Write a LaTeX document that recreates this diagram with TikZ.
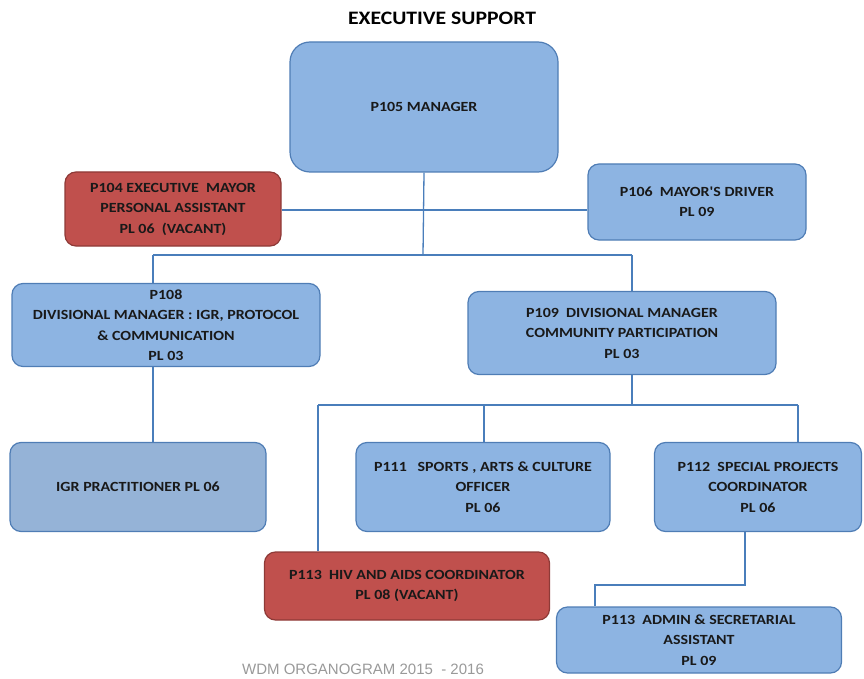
\documentclass[tikz,border=0pt]{standalone}
\usepackage{fontspec}
\setmainfont{Carlito}
\newfontfamily\boxfont[FakeStretch=1.14]{Carlito}
\newfontfamily\footfont{Liberation Sans}
\begin{document}
\definecolor{boxblue}{HTML}{8DB4E2}
\definecolor{boxgrey}{HTML}{95B3D7}
\definecolor{edgeblue}{HTML}{4F7DB5}
\definecolor{boxred}{HTML}{C0504D}
\definecolor{edgered}{HTML}{8E3A37}
\definecolor{linkblue}{HTML}{4A7EBB}
\begin{tikzpicture}[x=1pt,y=-1pt,
  post/.style={draw=edgeblue, line width=1.2pt, fill=boxblue, rounded corners=11pt,
    align=center, inner sep=0pt, text=black!90,
    font=\boxfont\bfseries\fontsize{14}{20.5}\selectfont},
  vacant/.style={post, draw=edgered, fill=boxred},
  link/.style={draw=linkblue, line width=1.3pt}]
\useasboundingbox (0,0) rectangle (864,679);

% title
\node[font=\boxfont\bfseries\fontsize{19}{22}\selectfont] (title) at (442,18) {EXECUTIVE SUPPORT};

% posts
\node[post, rounded corners=20pt, minimum width=268pt, minimum height=130pt] (mgr) at (424,107) {P105 MANAGER};
\node[vacant, minimum width=216pt, minimum height=74pt] (p104) at (173,209) {P104 EXECUTIVE\ \ MAYOR\\PERSONAL ASSISTANT\\PL 06\ \ (VACANT)};
\node[post, minimum width=218pt, minimum height=76pt] (p106) at (697,202) {P106\ \ MAYOR'S DRIVER\\PL 09};
\node[post, minimum width=308pt, minimum height=83pt] (p108) at (166,325) {P108\\DIVISIONAL MANAGER : IGR, PROTOCOL\\\& COMMUNICATION\\PL 03};
\node[post, minimum width=308pt, minimum height=83pt] (p109) at (622,333) {P109\ \ DIVISIONAL MANAGER\\COMMUNITY PARTICIPATION\\PL 03};
\node[post, fill=boxgrey, minimum width=256pt, minimum height=89pt] (igr) at (138,487) {IGR PRACTITIONER PL 06};
\node[post, minimum width=254pt, minimum height=89pt] (p111) at (483,487) {P111\ \ \ SPORTS , ARTS \& CULTURE\\OFFICER\\PL 06};
\node[post, minimum width=207pt, minimum height=89pt] (p112) at (758,487) {P112\ \ SPECIAL PROJECTS\\COORDINATOR\\PL 06};
\node[vacant, minimum width=285pt, minimum height=68pt] (hiv) at (407,586) {P113\ \ HIV AND AIDS COORDINATOR\\PL 08 (VACANT)};
\node[post, minimum width=285pt, minimum height=66pt] (adm) at (699,640) {P113\ \ ADMIN \& SECRETARIAL\\ASSISTANT\\PL 09};

% footer
\node[font=\footfont\fontsize{15}{17}\selectfont, text=black!40] (foot) at (363,669) {WDM ORGANOGRAM 2015\ \ - 2016};

% junction points of the connecting lines
\coordinate (busA) at (423,255);
\coordinate (busL) at (153,255);
\coordinate (busR) at (632,255);
\coordinate (busB) at (632,405);
\coordinate (bL) at (318,405);
\coordinate (bM) at (484,405);
\coordinate (bR) at (798,405);
\coordinate (admA) at (745,585);
\coordinate (admB) at (595,585);

% connectors
\draw[link] (mgr.south) -- (busA);
\draw[link] (p104.east |- 0,210) -- (p106.west |- 0,210);
\draw[link] (busL) -- (busR);
\draw[link] (busL) -- (busL |- p108.north);
\draw[link] (busR) -- (busR |- p109.north);
\draw[link] (busB |- p109.south) -- (busB);
\draw[link] (bL) -- (bR);
\draw[link] (bL) -- (bL |- hiv.north);
\draw[link] (bM) -- (bM |- p111.north);
\draw[link] (bR) -- (bR |- p112.north);
\draw[link] (busL |- p108.south) -- (busL |- igr.north);
\draw[link] (admA |- p112.south) -- (admA) -- (admB) -- (admB |- adm.north);
\end{tikzpicture}
\end{document}
